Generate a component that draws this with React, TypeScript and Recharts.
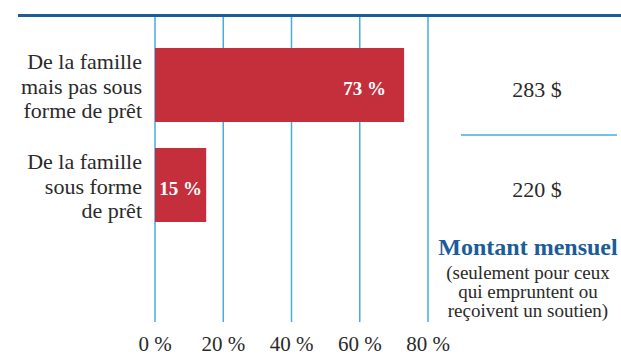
import { BarChart, Bar, XAxis, YAxis, CartesianGrid, LabelList } from 'recharts';

// chart values
const categories = [
  'De la famille\nmais pas sous\nforme de prêt',
  'De la famille\nsous forme\nde prêt',
];
const shares = [73, 15];
const monthlyAmounts = [283, 220];
const xTicks = [0, 20, 40, 60, 80];
const noteTitle = 'Montant mensuel';
const noteLines = ['(seulement pour ceux', 'qui empruntent ou', 'reçoivent un soutien)'];

const data = categories.map((name, i) => ({
  name,
  share: shares[i],
  amount: monthlyAmounts[i],
}));

const FONT = '"Liberation Serif", serif';
const TEXT = '#2a2a2a';
const RED = '#c42f3b';
const BLUE = '#1b5c99';
const GRID = '#45ade0';

function CategoryTick({ x, y, payload }: any) {
  const lines = String(payload.value).split('\n');
  return (
    <text x={x} y={y} textAnchor="end" style={{ fontFamily: FONT }} fontSize={22} fill={TEXT}>
      {lines.map((l, i) => (
        <tspan key={i} x={x} dy={i === 0 ? -16 : 24.5}>
          {l}
        </tspan>
      ))}
    </text>
  );
}

function AmountTick({ x, y, payload }: any) {
  const amount = data[payload.index]?.amount;
  return (
    <g>
      <text x={x + 109} y={y + 12} textAnchor="middle" style={{ fontFamily: FONT }} fontSize={22} fill={TEXT}>
        {amount} $
      </text>
      {payload.index < data.length - 1 && (
        <line x1={x + 33} x2={x + 189} y1={y + 50} y2={y + 50} stroke={GRID} strokeWidth={1.5} />
      )}
    </g>
  );
}

const renderShare = (props: any) => {
  const { x, y, width, height, value } = props;
  const wide = width > 80;
  return (
    <text
      x={wide ? x + width - 18 : x + width / 2}
      y={y + height / 2 + 10}
      textAnchor={wide ? 'end' : 'middle'}
      fill="#fff"
      fontWeight="bold"
      style={{ fontFamily: FONT }}
      fontSize={19}
    >
      {value} %
    </text>
  );
};

export default function App() {
  return (
    <div style={{ position: 'absolute', left: 0, top: 0, width: 621, height: 355 }}>
      <BarChart
        width={621}
        height={355}
        data={data}
        layout="vertical"
        margin={{ top: 15, right: 0, left: 0, bottom: 0 }}
      >
        <CartesianGrid horizontal={false} stroke={GRID} strokeWidth={1.5} />
        <XAxis
          type="number"
          domain={[0, 80]}
          ticks={xTicks}
          interval={0}
          height={33}
          axisLine={false}
          tickLine={false}
          tickSize={0}
          tickMargin={14}
          tickFormatter={(v: number) => `${v} %`}
          tick={{ fill: TEXT, fontSize: 21, fontFamily: FONT }}
        />
        <YAxis
          yAxisId="left"
          type="category"
          dataKey="name"
          width={155}
          padding={{ top: 20, bottom: 87 }}
          axisLine={false}
          tickLine={false}
          tickSize={0}
          tickMargin={13}
          tick={<CategoryTick />}
        />
        <YAxis
          yAxisId="right"
          orientation="right"
          type="category"
          dataKey="name"
          width={193}
          padding={{ top: 20, bottom: 87 }}
          axisLine={false}
          tickLine={false}
          tickSize={0}
          tickMargin={0}
          tick={<AmountTick />}
        />
        <Bar yAxisId="left" dataKey="share" fill={RED} barSize={74} isAnimationActive={false}>
          <LabelList dataKey="share" content={renderShare} />
        </Bar>
      </BarChart>
      <div
        style={{ position: 'absolute', left: 18, top: 14, width: 603, height: 3, background: BLUE }}
      />
      <div
        style={{
          position: 'absolute',
          left: 432,
          top: 235,
          width: 192,
          textAlign: 'center',
          fontFamily: FONT,
          fontSize: 24,
          lineHeight: '24px',
          fontWeight: 'bold',
          color: BLUE,
          whiteSpace: 'nowrap',
        }}
      >
        {noteTitle}
      </div>
      <div
        style={{
          position: 'absolute',
          left: 432,
          top: 263,
          width: 192,
          textAlign: 'center',
          fontFamily: FONT,
          fontSize: 19,
          lineHeight: '19px',
          color: TEXT,
          whiteSpace: 'nowrap',
        }}
      >
        {noteLines.map((l, i) => (
          <div key={i}>{l}</div>
        ))}
      </div>
    </div>
  );
}
